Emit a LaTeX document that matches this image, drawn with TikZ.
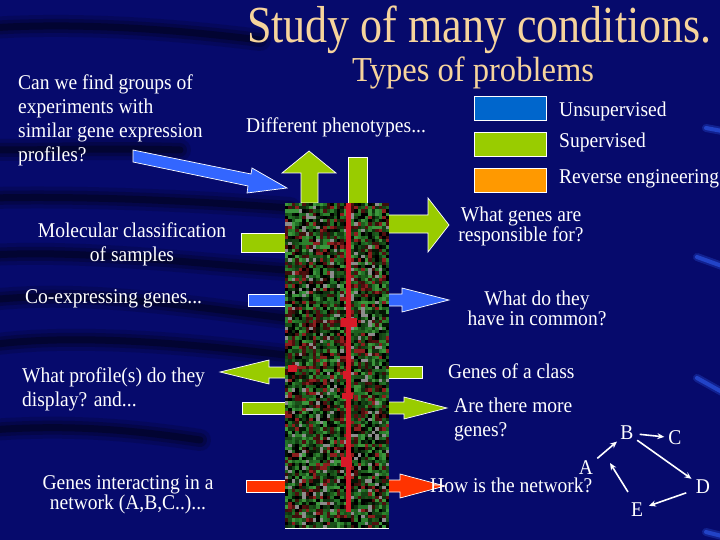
\documentclass[tikz,border=0pt]{standalone}
\usepackage{fontspec}
\setmainfont{Liberation Serif}[FakeStretch=0.93]
\usetikzlibrary{arrows.meta}
\definecolor{bg}{RGB}{6,10,108}
\definecolor{ttl}{RGB}{246,212,156}
\definecolor{lgblue}{RGB}{0,102,204}
\definecolor{lggreen}{RGB}{153,204,0}
\definecolor{lgorange}{RGB}{255,153,0}
\definecolor{arblue}{RGB}{51,102,255}
\definecolor{arred}{RGB}{255,51,0}
\definecolor{hm0}{RGB}{0,0,0}
\definecolor{hm1}{RGB}{5,20,5}
\definecolor{hm2}{RGB}{15,50,15}
\definecolor{hm3}{RGB}{25,80,25}
\definecolor{hm4}{RGB}{35,115,40}
\definecolor{hm5}{RGB}{60,150,60}
\definecolor{hm6}{RGB}{80,15,15}
\definecolor{hm7}{RGB}{140,30,30}
\definecolor{hm8}{RGB}{140,140,140}
\definecolor{hm9}{RGB}{20,65,20}
\definecolor{hm10}{RGB}{0,0,0}
\definecolor{hm11}{RGB}{45,130,45}
\definecolor{hm12}{RGB}{60,15,10}
\definecolor{hm13}{RGB}{30,95,30}
\definecolor{streak}{RGB}{215,25,40}
\begin{document}
\begin{tikzpicture}[x=1pt,y=-1pt,
  txt/.style={text=white,inner sep=0pt,font=\fontsize{21}{24}\selectfont},
  blk/.style={draw=white,line width=0.7pt,line join=miter},
  lgbox/.style={draw=white,line width=0.7pt},
  net/.style={draw=white,line width=1.6pt,-{Stealth[length=7pt,width=6pt]}}]
\useasboundingbox (0,0) rectangle (720,540);
\fill[bg] (0,0) rectangle (720,540);
% background streaks
\begin{scope}[black,line cap=round]
\foreach \w/\o in {22/0.14,14/0.2,7/0.3}{
  \draw[line width=\w pt,opacity=\o] (-10,28) .. controls (80,22) and (180,30) .. (260,40);
  \draw[line width=\w pt,opacity=\o] (-10,150) .. controls (60,150) and (120,148) .. (180,150);
  \draw[line width=\w pt,opacity=\o] (-10,198) .. controls (80,196) and (180,200) .. (290,208);
  \draw[line width=\w pt,opacity=\o] (-10,255) .. controls (80,250) and (180,262) .. (285,270);
  \draw[line width=\w pt,opacity=\o] (-10,300) .. controls (80,290) and (180,305) .. (285,318);
  \draw[line width=\w pt,opacity=\o] (-10,345) .. controls (60,335) and (160,340) .. (285,355);
  \draw[line width=\w pt,opacity=\o] (-10,430) .. controls (60,425) and (120,428) .. (200,440);
}
\end{scope}
\begin{scope}[line cap=round]
\foreach \w/\o in {8/0.25,4/0.5}{
  \draw[line width=\w pt,opacity=\o,arblue] (706,128) -- (722,131);
  \draw[line width=\w pt,opacity=\o,arblue] (697,257) -- (722,266);
  \draw[line width=\w pt,opacity=\o,arblue] (697,378) -- (722,392);
  \draw[line width=\w pt,opacity=\o,arblue] (706,532) -- (722,536);
}
\end{scope}
% titles
\node[anchor=base west,inner sep=0pt,text=ttl,font=\fontsize{52}{56}\selectfont] (title) at (247,43) {\scalebox{0.91}[1]{Study of many conditions.}};
\node[anchor=base west,inner sep=0pt,text=ttl,font=\fontsize{35}{38}\selectfont] (sub) at (352,82) {Types of problems};
% legend
\draw[lgbox,fill=lgblue] (474,96) rectangle (546,120);
\draw[lgbox,fill=lggreen] (474,132) rectangle (546,156);
\draw[lgbox,fill=lgorange] (474,168) rectangle (546,192);
\node[txt,anchor=west] (lu) at (559,111) {Unsupervised};
\node[txt,anchor=west] (ls) at (559,142) {Supervised};
\node[txt,anchor=west] (lr) at (559,179) {Reverse engineering};
% left/right texts
\node[txt,anchor=west,align=left] (q1) at (18,120) {Can we find groups of\\experiments with\\similar gene expression\\profiles?};
\node[txt,anchor=west] (phen) at (246,127) {Different phenotypes...};
\node[txt,align=center] (mol) at (132,244) {Molecular classification\\of samples};
\node[txt,anchor=west] (coex) at (25,299) {Co-expressing genes...};
\node[txt,anchor=west,align=left] (prof) at (22,389) {What profile(s) do they\\display? and...};
\node[txt,align=center,font=\fontsize{21}{19}\selectfont] (inter) at (128,495) {Genes interacting in a\\network (A,B,C..)...};
\node[txt,align=center,font=\fontsize{21}{20}\selectfont] (resp) at (521,226) {What genes are\\responsible for?};
\node[txt,align=center,font=\fontsize{21}{18}\selectfont] (comm) at (537,308) {What do they\\have in common?};
\node[txt,anchor=west] (cls) at (448,371) {Genes of a class};
\node[txt,anchor=west,align=left] (more) at (454,419) {Are there more\\genes?};
% block arrows
\draw[blk,fill=arblue] (133,150) -- (251,174) -- (252,168) -- (287,188) -- (247,193) -- (248,186) -- (133,162) -- cycle;
\draw[blk,fill=lggreen] (301,203) -- (301,173) -- (282,173) -- (309,151) -- (336,173) -- (318,173) -- (318,203) -- cycle;
\draw[blk,fill=lggreen] (348,157) rectangle (367,203);
\draw[blk,fill=lggreen] (385,215) -- (428,215) -- (428,198) -- (449,225) -- (428,252) -- (428,233) -- (385,233) -- cycle;
\draw[blk,fill=lggreen] (241,233) rectangle (289,252);
\draw[blk,fill=arblue] (248,294) rectangle (289,306);
\draw[blk,fill=arblue] (385,294) -- (402,294) -- (402,288) -- (449,300) -- (402,312) -- (402,306) -- (385,306) -- cycle;
\draw[blk,fill=lggreen] (289,367) -- (269,367) -- (269,360) -- (220,372) -- (269,384) -- (269,378) -- (289,378) -- cycle;
\draw[blk,fill=lggreen] (385,366) rectangle (422,378);
\draw[blk,fill=lggreen] (242,402) rectangle (289,414);
\draw[blk,fill=lggreen] (385,402) -- (404,402) -- (404,397) -- (447,408) -- (404,419) -- (404,414) -- (385,414) -- cycle;
\draw[blk,fill=arred] (246,480) rectangle (289,492);
\draw[blk,fill=arred] (385,480) -- (400,480) -- (400,474) -- (445,486) -- (400,498) -- (400,492) -- (385,492) -- cycle;
% heatmap
\node[inner sep=0pt,minimum width=104pt,minimum height=325pt] (heat) at (337,365.5) {};
\pgfmathsetseed{23}
\foreach \i in {0,...,29}{
  \foreach \j in {0,...,99}{
    \pgfmathrandominteger{\c}{0}{13}
    \fill[hm\c] (285+\i*3.4667,203+\j*3.25) rectangle ++(3.4667,3.25);
  }
}
\fill[streak] (346,203) rectangle (351,512);
\fill[streak] (341,318) rectangle (357,327);
\fill[streak] (343,371) rectangle (350,379);
\fill[streak] (342,393) rectangle (353,399);
\fill[streak] (341,457) rectangle (352,467);
\fill[streak] (288,365) rectangle (297,372);
\draw[white,line width=0.7pt] (285,528) -- (389,528);
\node[txt,anchor=west] (net) at (430,485) {How is the network?};
% network
\node[txt,inner sep=1pt] (A) at (586,468) {A};
\node[txt,inner sep=1pt] (B) at (627,433) {B};
\node[txt,inner sep=1pt] (C) at (675,438) {C};
\node[txt,inner sep=1pt] (D) at (703,487) {D};
\node[txt,inner sep=1pt] (E) at (637,510) {E};
\draw[net,shorten <=4pt,shorten >=3pt] (A) -- (B);
\draw[net,shorten <=5pt,shorten >=3pt] (B) -- (C);
\draw[net,shorten <=3pt,shorten >=4pt] (B) -- (D);
\draw[net,shorten <=9pt,shorten >=5pt] (D) -- (E);
\draw[net] ([shift={(-9,-18)}]E.center) -- ([shift={(24,-5)}]A.center);
\end{tikzpicture}
\end{document}
